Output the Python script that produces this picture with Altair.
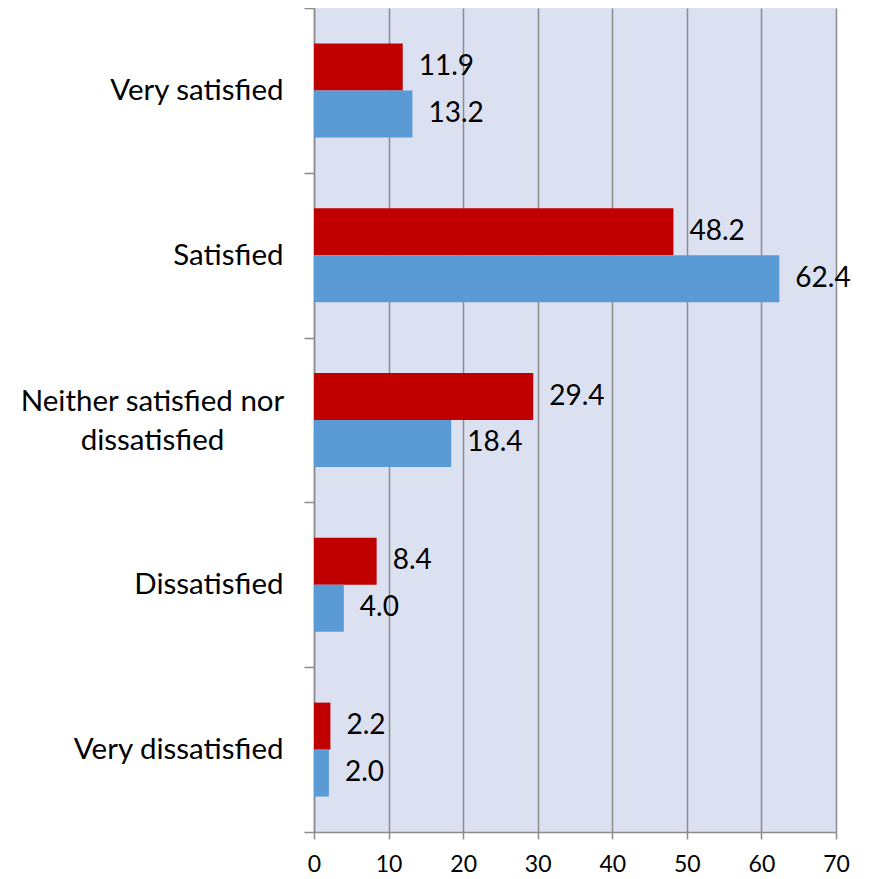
import altair as alt
import pandas as pd

categories = ["Very satisfied", "Satisfied", "Neither satisfied nor dissatisfied",
              "Dissatisfied", "Very dissatisfied"]
series_names = ["Series 1", "Series 2"]
series1_values = [11.9, 48.2, 29.4, 8.4, 2.2]
series2_values = [13.2, 62.4, 18.4, 4.0, 2.0]
x_ticks = [0, 10, 20, 30, 40, 50, 60, 70]
colors = ["#C00000", "#5B9BD5"]

rows = []
for c, v in zip(categories, series1_values):
    rows.append({"category": c, "series": series_names[0], "value": v})
for c, v in zip(categories, series2_values):
    rows.append({"category": c, "series": series_names[1], "value": v})
df = pd.DataFrame(rows)

long_label = "Neither satisfied nor dissatisfied"
FONT = "Lato"
is_long = f"datum.value == '{long_label}'"

y_enc = alt.Y(
    "category:N",
    sort=categories,
    scale=alt.Scale(paddingInner=0, paddingOuter=0),
    axis=alt.Axis(
        title=None,
        tickBand="extent",
        tickSize=10,
        tickColor="#8c8c8c",
        tickWidth=1.5,
        domainColor="#8c8c8c",
        domainWidth=1.5,
        labelFont=FONT,
        labelFontSize=29.5,
        labelColor="#000000",
        labelLimit=400,
        labelLineHeight=39,
        labelExpr=f"{is_long} ? ['Neither satisfied nor', 'dissatisfied'] : datum.value",
        labelAlign={"condition": {"test": is_long, "value": "center"}, "value": "right"},
        labelPadding={"condition": {"test": is_long, "value": 152}, "value": 21},
        labelOffset={"condition": {"test": is_long, "value": -19}, "value": 0},
    ),
)

x_enc = alt.X(
    "value:Q",
    scale=alt.Scale(domain=[0, 70], nice=False),
    axis=alt.Axis(
        title=None,
        values=x_ticks,
        grid=True,
        gridColor="#8c8c8c",
        gridWidth=1.5,
        tickSize=7,
        tickColor="#8c8c8c",
        tickWidth=1.5,
        domainColor="#8c8c8c",
        domainWidth=1.5,
        labelFont=FONT,
        labelFontSize=23,
        labelColor="#000000",
        labelPadding=14,
        labelFlush=False,
    ),
)

y_off = alt.YOffset("series:N", sort=series_names,
                    scale=alt.Scale(paddingInner=0, paddingOuter=0.754))

bars = alt.Chart(df).mark_bar().encode(
    y=y_enc,
    x=x_enc,
    yOffset=y_off,
    color=alt.Color("series:N", scale=alt.Scale(domain=series_names, range=colors), legend=None),
)

labels = alt.Chart(df).mark_text(
    align="left", baseline="middle", dx=16, font=FONT, fontSize=28, color="#000000"
).encode(
    y=alt.Y("category:N", sort=categories),
    x=alt.X("value:Q"),
    yOffset=y_off,
    text=alt.Text("value:Q", format=".1f"),
)

chart = alt.layer(bars, labels).properties(
    width=522,
    height=824,
    autosize=alt.AutoSizeParams(type="none"),
    padding={"left": 306, "top": 0, "right": 25, "bottom": 46},
).configure_view(
    fill="#dbe1f1",
    stroke=None,
)

chart.save("out.html", embed_options={"renderer": "svg", "actions": False})
